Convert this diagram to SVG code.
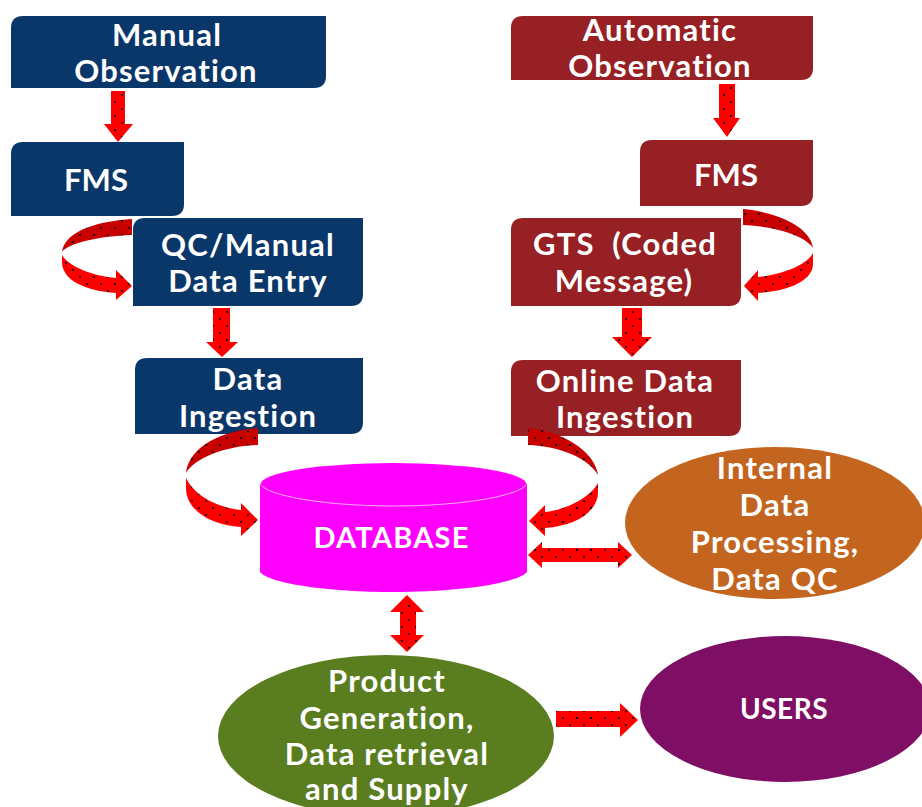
<svg xmlns="http://www.w3.org/2000/svg" width="922" height="807" viewBox="0 0 922 807">
<defs>
<pattern id="dots" width="14" height="14" patternUnits="userSpaceOnUse"><rect width="14" height="14" fill="#ff0000"/><circle cx="3" cy="4" r="1.100" fill="#000"/><circle cx="10" cy="11" r="1.100" fill="#000"/></pattern>
<pattern id="dotsDark" width="14" height="14" patternUnits="userSpaceOnUse"><rect width="14" height="14" fill="#c80000"/><circle cx="3" cy="4" r="1.100" fill="#000"/><circle cx="10" cy="11" r="1.100" fill="#000"/></pattern>
</defs>
<style>
text{font-family:"Lato","Liberation Sans",sans-serif;font-weight:700;font-size:31px;fill:#fff;text-anchor:middle;letter-spacing:1.2px}
.navy{fill:#0a3769}.maroon{fill:#962023}
.a{fill:url(#dots)}.d{fill:url(#dotsDark)}
</style>
<g id="connectors-back">
<path class="d" d="M132 219C100 221 65 230 62 252C68 243 100 236 132 235Z"/>
<path class="a" d="M62 255C70 268 95 276 116 278V270L132 286L116 300V293C85 291 62 280 62 262Z"/>
<path class="d" d="M743 209C775 212 810 226 813 248C806 236 775 226 743 225Z"/>
<path class="a" d="M813 253C806 266 780 275 758 277V270L744 286L758 301V293C790 291 813 280 813 264Z"/>
</g>
<g id="n-manual"><path class="navy" d="M23 16H326V76Q326 88 314 88H11V28Q11 16 23 16Z"/><text x="167" y="46">Manual</text><text x="166" y="82">Observation</text></g>
<g id="n-fms-l"><path class="navy" d="M23 142H184V204Q184 216 172 216H11V154Q11 142 23 142Z"/><text x="96" y="191" style="letter-spacing:0">FMS</text></g>
<g id="n-qc"><path class="navy" d="M145 218H363V294Q363 306 351 306H133V230Q133 218 145 218Z"/><text x="248" y="256">QC/Manual</text><text x="248" y="292">Data Entry</text></g>
<g id="n-ingest"><path class="navy" d="M147 358H363V422Q363 434 351 434H135V370Q135 358 147 358Z"/><text x="248" y="390">Data</text><text x="248" y="427">Ingestion</text></g>
<g id="n-auto"><path class="maroon" d="M523 16H813V68Q813 80 801 80H511V28Q511 16 523 16Z"/><text x="660" y="41">Automatic</text><text x="660" y="77">Observation</text></g>
<g id="n-fms-r"><path class="maroon" d="M652 140H813V194Q813 206 801 206H640V152Q640 140 652 140Z"/><text x="726" y="186" style="letter-spacing:0">FMS</text></g>
<g id="n-gts"><path class="maroon" d="M523 218H741V294Q741 306 729 306H511V230Q511 218 523 218Z"/><text x="625" y="255" xml:space="preserve">GTS  (Coded</text><text x="624" y="292">Message)</text></g>
<g id="n-online"><path class="maroon" d="M523 360H741V424Q741 436 729 436H511V372Q511 360 523 360Z"/><text x="625" y="392">Online Data</text><text x="625" y="428">Ingestion</text></g>
<g id="n-database"><path d="M260 484V572C270 584 330 592 393 592C456 592 516 584 527 572V484Z" fill="#ff00ff"/><ellipse cx="393.500" cy="484.500" rx="133" ry="21.500" fill="#ff00ff"/><path d="M260.500 484.500C270 497 330 506 393.500 506C457 506 517 497 526.500 484.500" fill="none" stroke="#ffb0ff" stroke-width="1"/><text x="391.500" y="548" style="font-size:29px">DATABASE</text></g>
<g id="n-internal"><ellipse cx="775" cy="523" rx="150" ry="76" fill="#c3651f"/><text x="775" y="479">Internal</text><text x="775" y="516">Data</text><text x="775" y="553">Processing,</text><text x="775" y="590">Data QC</text></g>
<g id="n-product"><ellipse cx="386" cy="736" rx="168" ry="81" fill="#5a7d1f"/><text x="387" y="692">Product</text><text x="387" y="729">Generation,</text><text x="387" y="765">Data retrieval</text><text x="387" y="800">and Supply</text></g>
<g id="n-users"><ellipse cx="785" cy="709" rx="145" ry="73" fill="#7f0f64"/><text x="784" y="719" style="font-size:28px;letter-spacing:.5px">USERS</text></g>
<g id="connectors">
<path class="a" d="M111 91H125V124H133L118 142L104 124H111Z"/>
<path class="a" d="M213 308H230V342H238L222 357L206 342H213Z"/>
<path class="a" d="M719 84H735V118H740L727 137L713 118H719Z"/>
<path class="a" d="M622 308H642V337H652L632 357L612 337H622Z"/>
<path class="d" d="M258 428C225 430 189 445 186 473C195 458 225 446 258 445Z"/>
<path class="a" d="M186 478C195 497 220 508 241 510V503L258 520L241 536V527C210 525 186 510 186 488Z"/>
<path class="d" d="M528 428C560 431 595 450 598 475C588 458 560 446 528 445Z"/>
<path class="a" d="M598 483C590 498 565 510 545 512V505L529 521L545 536V528C575 526 598 512 598 492Z"/>
<path class="a" d="M528 555L542 542V548H618V542L632 555L618 568V562H542V568Z"/>
<path class="a" d="M407 595L424 612H416V635H424L407 652L390 635H400V612H390Z"/>
<path class="a" d="M556 711H620V703L638 720L620 737V727H556Z"/>
</g>
</svg>
